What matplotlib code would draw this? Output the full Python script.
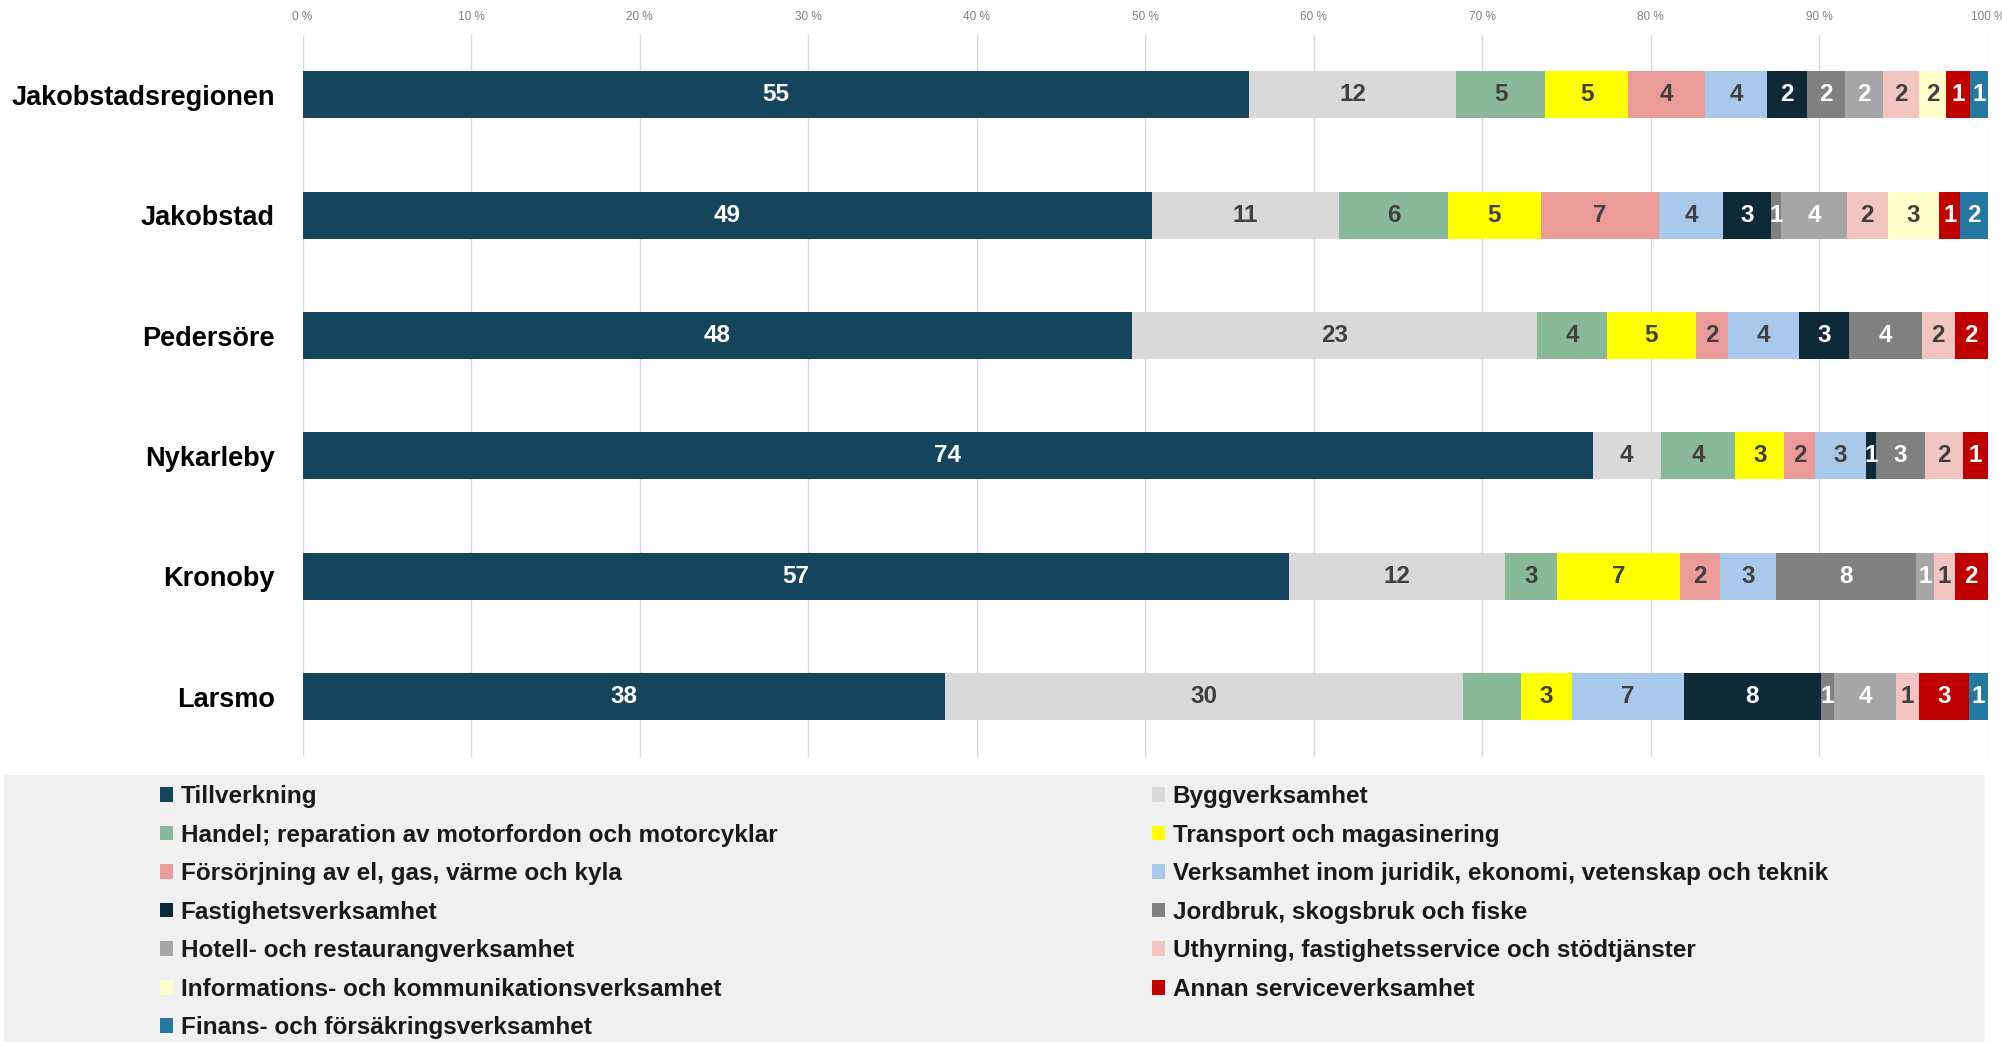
import matplotlib
matplotlib.use("Agg")
import matplotlib.pyplot as plt
from matplotlib import font_manager
from matplotlib.patches import Patch, Rectangle
import numpy as np

# --- data (percent of employed persons by industry, rounded labels shown) ---
regions = ["Jakobstadsregionen", "Jakobstad", "Pedersöre", "Nykarleby", "Kronoby", "Larsmo"]

categories = [
    "Tillverkning",
    "Byggverksamhet",
    "Handel; reparation av motorfordon och motorcyklar",
    "Transport och magasinering",
    "Försörjning av el, gas, värme och kyla",
    "Verksamhet inom juridik, ekonomi, vetenskap och teknik",
    "Fastighetsverksamhet",
    "Jordbruk, skogsbruk och fiske",
    "Hotell- och restaurangverksamhet",
    "Uthyrning, fastighetsservice och stödtjänster",
    "Informations- och kommunikationsverksamhet",
    "Annan serviceverksamhet",
    "Finans- och försäkringsverksamhet",
]

tillverkning = [55.0, 49.4, 48.0, 74.2, 56.8, 37.7]
bygg = [12.0, 10.9, 23.4, 3.9, 12.4, 30.4]
handel = [5.2, 6.3, 4.1, 4.3, 3.0, 3.4]
transport = [4.8, 5.4, 5.1, 2.8, 7.1, 3.0]
forsorjning = [4.5, 6.9, 1.9, 1.8, 2.3, 0.0]
juridik = [3.6, 3.7, 4.1, 2.9, 3.2, 6.6]
fastighet = [2.3, 2.8, 2.9, 0.6, 0.0, 8.0]
jordbruk = [2.2, 0.6, 4.2, 2.8, 8.1, 0.8]
hotell = [2.2, 3.8, 0.0, 0.0, 1.0, 3.6]
uthyrning = [2.1, 2.4, 1.9, 2.2, 1.2, 1.4]
information = [1.6, 3.0, 0.0, 0.0, 0.0, 0.0]
annan = [1.4, 1.2, 1.9, 1.4, 1.9, 2.9]
finans = [1.0, 1.6, 0.0, 0.0, 0.0, 1.1]

series = [tillverkning, bygg, handel, transport, forsorjning, juridik, fastighet,
          jordbruk, hotell, uthyrning, information, annan, finans]

# labels that are not shown in the original chart
hidden_labels = [("Larsmo", "Handel; reparation av motorfordon och motorcyklar")]

colors = ["#15455C", "#D9D9D9", "#8AB89A", "#FFFF00", "#EA9B98", "#A9C9EA", "#0E2A38",
          "#808080", "#A6A6A6", "#F2C4C2", "#FFFFCC", "#C00000", "#23799F"]
label_colors = ["white", "#404040", "#404040", "#404040", "#404040", "#404040", "white",
                "white", "white", "#404040", "#404040", "white", "white"]

x_ticks = [0, 10, 20, 30, 40, 50, 60, 70, 80, 90, 100]


def pick_font(names):
    available = {f.name for f in font_manager.fontManager.ttflist}
    for n in names:
        if n in available:
            return n
    return "DejaVu Sans"


FONT = pick_font(["Liberation Sans", "Arial", "DejaVu Sans"])
plt.rcParams["font.family"] = [FONT, "DejaVu Sans"]

W, H = 2002, 1042
fig = plt.figure(figsize=(W / 100, H / 100), dpi=100)

# legend background panel
fig.add_artist(Rectangle((4 / W, 0), (1985 - 4) / W, 1 - 775 / H,
                         transform=fig.transFigure, facecolor="#F0F0F0",
                         edgecolor="none", zorder=0))

ax = fig.add_axes([302.6 / W, 1 - 757 / H, (1987.6 - 302.6) / W, (757 - 34.5) / H])

values = np.array(series, dtype=float)          # shape (n_cat, n_regions)
totals = values.sum(axis=0)
shares = values / totals * 100
y = np.arange(len(regions))
left = np.zeros(len(regions))

for ci, cat in enumerate(categories):
    w = shares[ci]
    ax.barh(y, w, left=left, height=0.39, color=colors[ci], edgecolor="none",
            label=cat, zorder=2)
    for ri, reg in enumerate(regions):
        if values[ci, ri] <= 0 or (reg, cat) in hidden_labels:
            continue
        ax.text(left[ri] + w[ri] / 2, y[ri], f"{values[ci, ri]:.0f}",
                ha="center", va="center", fontsize=17.5, fontweight="bold",
                color=label_colors[ci], zorder=3)
    left += w

ax.set_xlim(0, 100)
ax.set_ylim(len(regions) - 0.5, -0.5)
ax.xaxis.tick_top()
ax.set_xticks(x_ticks)
ax.set_xticklabels([f"{t} %" for t in x_ticks], fontsize=8.5, color="#808080")
ax.tick_params(axis="x", length=0, pad=8)
ax.set_yticks(y)
ax.set_yticklabels(regions, fontsize=19.5, fontweight="bold", color="black")
ax.tick_params(axis="y", length=0, pad=20)
ax.grid(axis="x", color="#D9D9D9", linewidth=1)
ax.set_axisbelow(True)
for s in ax.spines.values():
    s.set_visible(False)

# legend in two columns, row-major like the original
handles = [Patch(facecolor=c, edgecolor="none") for c in colors]
legend_kw = dict(loc="upper left", frameon=False, handlelength=0.55, handleheight=0.55,
                 handletextpad=0.3, labelspacing=0.64, borderaxespad=0, borderpad=0,
                 prop={"size": 17.5, "weight": "bold"}, labelcolor="#1a1a1a")
top = 1 - 785 / H
fig.legend(handles[0::2], categories[0::2], bbox_to_anchor=(160 / W, top), **legend_kw)
fig.legend(handles[1::2], categories[1::2], bbox_to_anchor=(1152 / W, top), **legend_kw)

fig.savefig("out.png", dpi=100)
